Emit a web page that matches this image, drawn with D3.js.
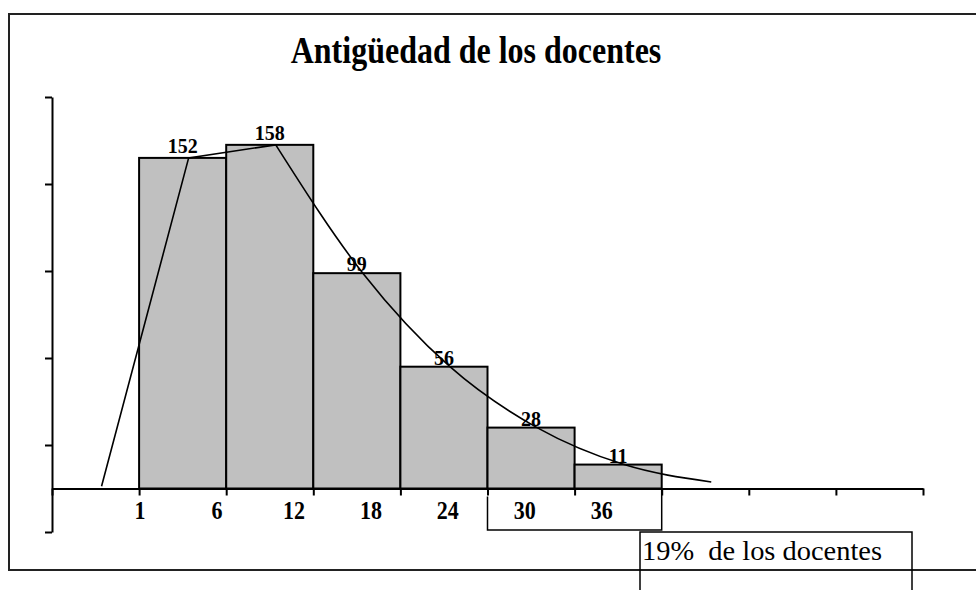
<!DOCTYPE html>
<html>
<head>
<meta charset="utf-8">
<script src="https://cdn.jsdelivr.net/npm/d3@7"></script>
<style>
  body { margin: 0; background: #fff; }
  text { font-family: "Liberation Serif", "Times New Roman", serif; }
</style>
</head>
<body>
<div id="chart"></div>
<script>
// datos
const clases = ["1-6", "6-12", "12-18", "18-24", "24-30", "30-36"]
const docentes = [152, 158, 99, 56, 28, 11]
const etiquetasX = ["1", "6", "12", "18", "24", "30", "36"]
// linea dibujada a mano sobre las barras (incluye los extremos)
const poligono = [1, 152, 158, 99, 56, 28, 11, 3]
const ticksY = [-20, 20, 60, 100, 140, 180]
const nSlots = 10

const width = 976, height = 590

const svg = d3.select("#chart")
    .append("svg")
    .attr("width", width)
    .attr("height", height)

// marco exterior
svg.append("rect")
    .attr("x", 9).attr("y", 14)
    .attr("width", 1000).attr("height", 556)
    .attr("fill", "none")
    .attr("stroke", "#222")
    .attr("stroke-width", 2)

// titulo (algo estirado en vertical, como en el original)
svg.append("text")
    .attr("transform", "translate(476,63) scale(1,1.18)")
    .attr("text-anchor", "middle")
    .attr("font-size", 32)
    .attr("font-weight", "bold")
    .text("Antigüedad de los docentes")

// escalas
const x = d3.scaleLinear().domain([0, nSlots]).range([52, 923])
const slotW = x(1) - x(0)
const y = d3.scaleLinear().domain([-20, 180]).range([532, 97])

// barras (las clases ocupan los huecos 1..6)
svg.selectAll(".bar")
    .data(docentes)
    .enter()
    .append("rect")
    .attr("class", "bar")
    .attr("x", (d, i) => x(i + 1))
    .attr("y", d => y(d))
    .attr("width", slotW)
    .attr("height", d => y(0) - y(d))
    .attr("fill", "#c0c0c0")
    .attr("stroke", "#000")
    .attr("stroke-width", 2)

// eje Y sin etiquetas
const gy = svg.append("g")
    .attr("transform", `translate(${x(0)},0)`)
    .call(d3.axisLeft(y).tickValues(ticksY).tickSize(7).tickSizeOuter(0).tickFormat(""))
gy.selectAll("path, line").attr("stroke", "#000").attr("stroke-width", 2)

// eje X
const gx = svg.append("g")
    .attr("transform", `translate(0,${y(0)})`)
    .call(d3.axisBottom(x).tickValues(d3.range(0, nSlots + 1)).tickSize(7).tickSizeOuter(0).tickFormat(""))
gx.selectAll("path, line").attr("stroke", "#000").attr("stroke-width", 2)

// etiquetas del eje X (escritas a mano, no alineadas a los ticks)
const xLab = d3.scalePoint().domain(etiquetasX).range([x(1) + 1, x(7) - 60])
svg.selectAll(".xlab")
    .data(etiquetasX)
    .enter()
    .append("text")
    .attr("class", "xlab")
    .attr("transform", d => `translate(${xLab(d)},519) scale(1,1.1)`)
    .attr("text-anchor", "middle")
    .attr("font-size", 22)
    .attr("font-weight", "bold")
    .text(d => d)

// valores sobre las barras
svg.selectAll(".val")
    .data(docentes)
    .enter()
    .append("text")
    .attr("class", "val")
    .attr("transform", (d, i) => `translate(${x(i + 1) + slotW / 2},${y(d) - (d > 150 ? 5 : 2)}) scale(1,1.08)`)
    .attr("text-anchor", "middle")
    .attr("font-size", 20)
    .attr("font-weight", "bold")
    .text(d => d)

// poligono de frecuencias: tramo recto arriba, suavizado al bajar
const pts = poligono.map((d, i) => [x(i) + slotW / 2 + 6, y(d)])
svg.append("path")
    .attr("d", d3.line()(pts.slice(0, 3)))
    .attr("fill", "none")
    .attr("stroke", "#000")
    .attr("stroke-width", 1.6)
svg.append("path")
    .attr("d", d3.line().curve(d3.curveMonotoneX)(pts.slice(2)))
    .attr("fill", "none")
    .attr("stroke", "#000")
    .attr("stroke-width", 1.6)

// llave bajo las clases 30 y 36
svg.append("path")
    .attr("d", `M${x(5)},${y(0) + 8}V530H${x(7)}V${y(0)}`)
    .attr("fill", "none")
    .attr("stroke", "#000")
    .attr("stroke-width", 1.5)

// cuadro de texto
svg.append("rect")
    .attr("x", 640).attr("y", 532)
    .attr("width", 272).attr("height", 80)
    .attr("fill", "none")
    .attr("stroke", "#000")
    .attr("stroke-width", 1.5)
svg.append("text")
    .attr("x", 642).attr("y", 560)
    .attr("font-size", 27)
    .attr("textLength", 240)
    .attr("lengthAdjust", "spacingAndGlyphs")
    .attr("xml:space", "preserve")
    .text("19%  de los docentes")
</script>
</body>
</html>
